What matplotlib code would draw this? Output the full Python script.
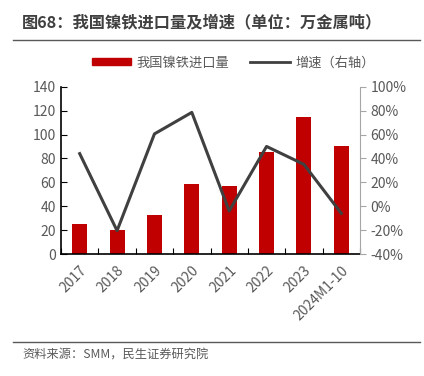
import matplotlib.pyplot as plt
from matplotlib.lines import Line2D
from matplotlib.ticker import FuncFormatter
import numpy as np

plt.rcParams['font.family'] = ['Noto Sans CJK SC', 'DejaVu Sans']

categories = ['2017', '2018', '2019', '2020', '2021', '2022', '2023', '2024M1-10']
imports = [25.5, 20, 32.5, 58.5, 56.5, 85, 114.5, 90]
growth = [44, -20.5, 60.5, 78.5, -4, 50, 35, -6]

bar_color = '#C00000'
line_color = '#404040'
text_color = '#595959'

fig = plt.figure(figsize=(4.24, 3.76), dpi=100)
ax = fig.add_axes([61 / 424, 1 - 254 / 376, 299 / 424, 167.3 / 376])
ax2 = ax.twinx()

x = np.arange(len(categories))
ax.bar(x, imports, width=0.4, color=bar_color, zorder=2)
ax2.plot(x, growth, color=line_color, lw=2.2, zorder=3)

ax.set_xlim(-0.5, len(categories) - 0.5)
ax.set_ylim(0, 140)
ax.set_yticks(range(0, 141, 20))
ax2.set_ylim(-40, 100)
ax2.set_yticks(range(-40, 101, 20))
ax2.yaxis.set_major_formatter(FuncFormatter(lambda v, p: f'{v:.0f}%'))

# category boundaries get the tick marks, labels sit at the bar centres
ax.set_xticks(np.arange(len(categories) + 1) - 0.5)
ax.set_xticklabels([])
ax.set_xticks(x, minor=True)
ax.set_xticklabels(categories, minor=True, rotation=45, ha='right',
                   rotation_mode='anchor', fontsize=10, color=text_color)
ax.tick_params(axis='x', which='minor', length=0, pad=7)
ax.tick_params(axis='x', which='major', direction='in', length=4, color='black')
ax.tick_params(axis='y', direction='in', length=4, labelsize=10, labelcolor=text_color)
ax2.tick_params(axis='y', direction='out', length=4, labelsize=10,
                labelcolor=text_color, color='#A6A6A6')

for a in (ax, ax2):
    a.spines['top'].set_visible(False)
ax.spines['right'].set_visible(False)
ax2.spines['left'].set_visible(False)
ax2.spines['bottom'].set_visible(False)
ax2.spines['right'].set_color('#A6A6A6')
ax.spines['left'].set_linewidth(1.2)
ax.spines['bottom'].set_linewidth(1.2)

handles = [plt.Rectangle((0, 0), 1, 1, color=bar_color),
           Line2D([0], [0], color=line_color, lw=2)]
fig.legend(handles, ['我国镍铁进口量', '增速（右轴）'], loc='center',
           bbox_to_anchor=(0.55, 1 - 63 / 376), ncol=2, frameon=False,
           fontsize=9.5, handlelength=3, handleheight=0.45, handletextpad=0.4,
           columnspacing=1.6, labelcolor=text_color)

fig.text(22 / 424, 1 - 22 / 376, '图68：我国镍铁进口量及增速（单位：万金属吨）',
         fontsize=11.7, fontweight='bold', color='#404040', va='center')
fig.add_artist(Line2D([13 / 424, 420 / 424], [1 - 40 / 376] * 2, color='#595959', lw=1))
fig.add_artist(Line2D([13 / 424, 420 / 424], [1 - 342 / 376] * 2, color='#595959', lw=1))
fig.text(22 / 424, 1 - 355 / 376, '资料来源：SMM，民生证券研究院',
         fontsize=8.8, color=text_color, va='center')

fig.savefig('out.png', dpi=100)
